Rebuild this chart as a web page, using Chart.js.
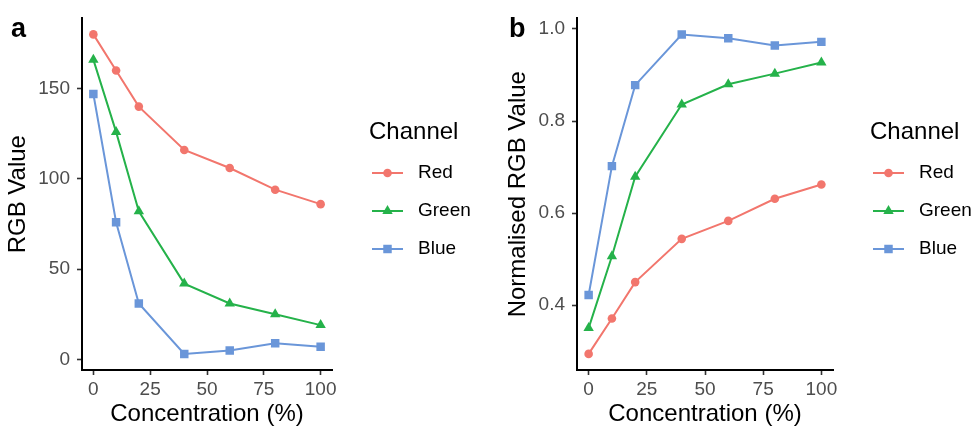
<!DOCTYPE html>
<html>
<head>
<meta charset="utf-8">
<script src="https://cdn.jsdelivr.net/npm/chart.js@4/dist/chart.umd.min.js"></script>
<style>
  body { margin: 0; background: #fff; }
  #wrap { position: relative; width: 973px; height: 429px; }
  .panel { position: absolute; top: 0; height: 429px; }
  .tag { position: absolute; font: bold 27px "Liberation Sans", Arial, sans-serif; color: #000; line-height: 1; }
</style>
</head>
<body>
<div id="wrap">
  <div class="panel" style="left:0;width:486px"><canvas id="rawChart"></canvas></div>
  <div class="panel" style="left:486px;width:487px"><canvas id="normChart"></canvas></div>
  <div class="tag" style="left:11px;top:15px">a</div>
  <div class="tag" style="left:509px;top:15px">b</div>
</div>
<script>
const concentration = [0, 10, 20, 40, 60, 80, 100];
const channels = ["Red", "Green", "Blue"];
const channelColors = ["#F2766D", "#25B24A", "#6A96D9"];

// panel a: raw values
const rawRed = [180, 160, 140, 116, 106, 94, 86];
const rawGreen = [166, 126, 82, 42, 31, 25, 19];
const rawBlue = [147, 76, 31, 3, 5, 9, 7];

// panel b: normalised values
const normRed = [0.294, 0.371, 0.45, 0.544, 0.583, 0.631, 0.662];
const normGreen = [0.35, 0.506, 0.679, 0.836, 0.88, 0.903, 0.927];
const normBlue = [0.422, 0.702, 0.878, 0.988, 0.98, 0.964, 0.972];

const xTicks = [0, 25, 50, 75, 100];
const rawTicks = [0, 50, 100, 150];
const normTicks = [0.4, 0.6, 0.8, 1.0];

const FONT = '"Liberation Sans", Arial, sans-serif';
const pointStyles = ["circle", "triangle", "rect"];
const pointSizes = [4.3, 6, 6];

// ggplot-like legend drawn to the right of the plot area
const channelLegend = {
  id: "channelLegend",
  afterDraw(chart) {
    const ctx = chart.ctx;
    const x0 = chart.chartArea.right;
    const rows = [173, 211, 249];
    // datasets are stored reversed (Blue drawn on top), legend follows channel order
    const sets = chart.data.datasets.slice().reverse();
    ctx.save();
    ctx.textBaseline = "middle";
    ctx.textAlign = "left";
    ctx.fillStyle = "#000";
    ctx.font = "24px " + FONT;
    ctx.fillText("Channel", x0 + 37, 132);
    sets.forEach((ds, i) => {
      const y = rows[i];
      ctx.strokeStyle = ds.borderColor;
      ctx.lineWidth = ds.borderWidth;
      ctx.beginPath();
      ctx.moveTo(x0 + 40, y);
      ctx.lineTo(x0 + 71, y);
      ctx.stroke();
      ctx.fillStyle = ds.pointBackgroundColor;
      Chart.helpers.drawPoint(ctx, {
        pointStyle: ds.pointStyle, radius: ds.pointRadius, rotation: 0, borderWidth: 0
      }, x0 + 55.5, y);
      ctx.fillStyle = "#000";
      ctx.font = "19px " + FONT;
      ctx.fillText(ds.label, x0 + 86, y);
    });
    ctx.restore();
  }
};

function makeDatasets(seriesList) {
  return seriesList.map((values, i) => ({
    label: channels[i],
    data: concentration.map((c, j) => ({ x: c, y: values[j] })),
    borderColor: channelColors[i],
    backgroundColor: channelColors[i],
    pointBackgroundColor: channelColors[i],
    pointBorderWidth: 0,
    borderWidth: 2,
    pointStyle: pointStyles[i],
    pointRadius: pointSizes[i],
    tension: 0
  }));
}

function makeChart(id, seriesList, yTitle, yMin, yMax, yTicks, fmt, yWidth, titlePad, padRight) {
  new Chart(document.getElementById(id), {
    type: "line",
    data: { datasets: makeDatasets(seriesList).reverse() },
    options: {
      responsive: true,
      maintainAspectRatio: false,
      animation: false,
      layout: { padding: { left: 0, right: padRight, top: 15, bottom: 0 } },
      plugins: { legend: { display: false }, tooltip: { enabled: false } },
      scales: {
        x: {
          type: "linear",
          min: -5,
          max: 105,
          afterBuildTicks: (s) => { s.ticks = xTicks.map((v) => ({ value: v })); },
          afterFit: (s) => { s.height = 59; },
          grid: { drawOnChartArea: false, drawTicks: true, tickLength: 5, tickWidth: 1.6, tickColor: "#333" },
          border: { display: true, color: "#000", width: 2 },
          ticks: { color: "#4d4d4d", font: { size: 19, family: FONT }, padding: 3, maxRotation: 0, autoSkip: false },
          title: { display: true, text: "Concentration (%)", color: "#000", font: { size: 24, family: FONT }, padding: { top: 0, bottom: 0 } }
        },
        y: {
          min: yMin,
          max: yMax,
          afterBuildTicks: (s) => { s.ticks = yTicks.map((v) => ({ value: v })); },
          afterFit: (s) => { s.width = yWidth; },
          grid: { drawOnChartArea: false, drawTicks: true, tickLength: 5, tickWidth: 1.6, tickColor: "#333" },
          border: { display: true, color: "#000", width: 2 },
          ticks: { color: "#4d4d4d", font: { size: 19, family: FONT }, padding: 7, callback: fmt },
          title: { display: true, text: yTitle, color: "#000", font: { size: 24, family: FONT }, padding: { top: titlePad, bottom: 0 } }
        }
      }
    },
    plugins: [channelLegend]
  });
}

makeChart("rawChart", [rawRed, rawGreen, rawBlue], "RGB Value", -5.85, 188.85, rawTicks,
  (v) => String(v), 82, 4, 154);
makeChart("normChart", [normRed, normGreen, normBlue], "Normalised RGB Value", 0.259, 1.023, normTicks,
  (v) => v.toFixed(1), 91, 18, 140);
</script>
</body>
</html>
